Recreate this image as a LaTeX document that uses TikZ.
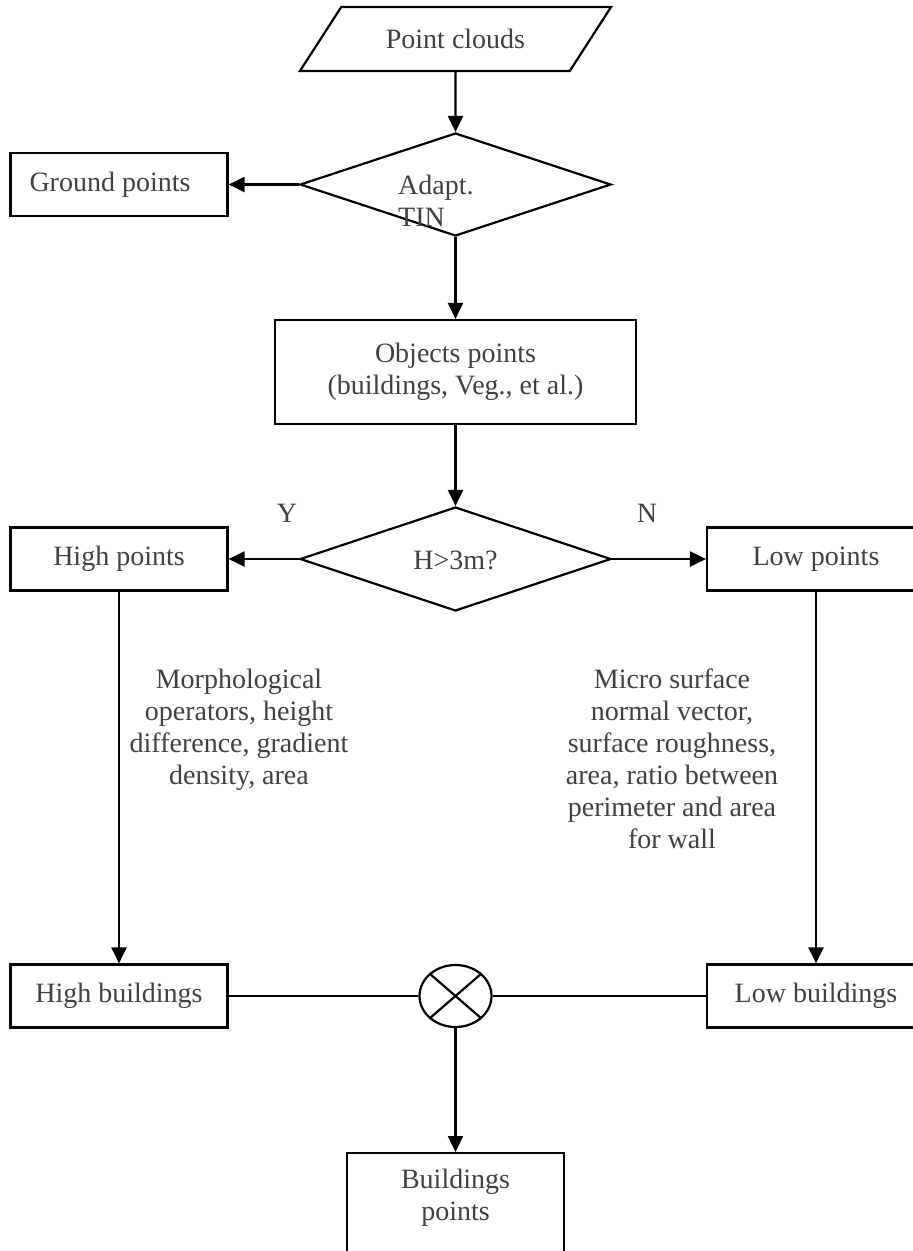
\documentclass[tikz,border=0pt]{standalone}
\usepackage{fontspec}
\setmainfont{Liberation Serif}
\usetikzlibrary{arrows.meta,shapes.geometric}
\definecolor{FlowGray}{HTML}{404040}
\tikzstyle{block} = [draw,shape=rectangle,line width=2.2pt,minimum width=217pt,minimum height=63pt,text=FlowGray,align=center]
\tikzstyle{decision} = [draw,shape=diamond,line width=2.2pt,minimum width=311pt,minimum height=103pt,inner sep=0pt]
\tikzstyle{data} = [draw,shape=trapezium,trapezium left angle=45,trapezium right angle=135,trapezium stretches=true,line width=2.2pt,minimum width=312pt,minimum height=64pt,text=FlowGray]
\tikzstyle{flow} = [line width=2.2pt,-{Triangle[length=16pt,width=15pt]}]
\tikzstyle{link} = [line width=2.2pt]
\tikzstyle{note} = [text=FlowGray,align=center,inner sep=0pt]

\begin{document}
\begin{tikzpicture}[x=1pt,y=-1pt,font=\fontsize{28}{32}\selectfont]
	\useasboundingbox (0,0) rectangle (913,1251);
	
	\node[data] (pc) at (455.5,39) {Point clouds};
	\node[decision] (tin) at (455.5,184.5) {};
	\node[note,align=left,anchor=west] (tintxt) at (398,201) {Adapt.\\TIN};
	\node[block] (gp) at (119,184.5) {Ground points\hspace{18pt}};
	\node[block,minimum width=361pt,minimum height=104pt] (obj) at (455.5,372) {Objects points\\(buildings, Veg., et al.)};
	
	\node[decision,minimum height=104pt] (hgt) at (455.5,559) {};
	\node[note] (hgttxt) at (455.5,560) {H>3m?};
	\node[note] (yes) at (287,513) {Y};
	\node[note] (no) at (647,513) {N};
	\node[block] (hp) at (119,559) {High points};
	\node[block,minimum width=218pt] (lp) at (816,559) {Low points};
	
	\node[note] (hpnote) at (239,730) {Morphological\\operators, height\\difference, gradient\\density, area};
	\node[note] (lpnote) at (672,759) {Micro surface\\normal vector,\\surface roughness,\\area, ratio between\\perimeter and area\\for wall};
	
	\node[block] (hb) at (119,996) {High buildings};
	\node[block,minimum width=218pt] (lb) at (816,996) {Low buildings};
	\node[draw,shape=ellipse,line width=2.2pt,minimum width=72pt,minimum height=62pt,inner sep=0pt] (mix) at (455.5,996) {};
	\node[block,anchor=north,minimum height=130pt] (bp) at (455.5,1152) {};
	\node[note] (bptxt) at (455.5,1198) {Buildings\\points};
	
	\draw[link] (mix.north east) -- (mix.south west) (mix.north west) -- (mix.south east);
	\draw[flow] (pc) -- (tin);
	\draw[flow] (tin.west) -- (gp.east);
	\draw[flow] (tin.south) -- (obj.north);
	\draw[flow] (obj.south) -- (hgt.north);
	\draw[flow] (hgt.west) -- (hp.east);
	\draw[flow] (hgt.east) -- (lp.west);
	\draw[flow] (hp.south) -- (hb.north);
	\draw[flow] (lp.south) -- (lb.north);
	\draw[link] (hb.east) -- (mix.west);
	\draw[link] (mix.east) -- (lb.west);
	\draw[flow] (mix.south) -- (bp.north);
	
\end{tikzpicture}
\end{document}
